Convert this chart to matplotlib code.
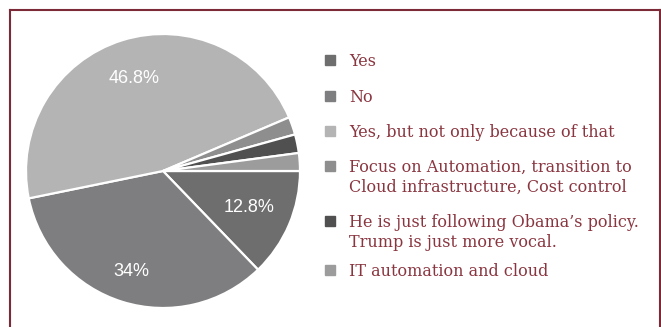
import matplotlib
matplotlib.use("Agg")
import matplotlib.pyplot as plt
import numpy as np
from matplotlib.patches import Rectangle

labels = ["Yes", "No", "Yes, but not only because of that",
          "Focus on Automation, transition to\nCloud infrastructure, Cost control",
          "He is just following Obama\u2019s policy.\nTrump is just more vocal.",
          "IT automation and cloud"]
values = [12.8, 34.0, 46.8, 2.1, 2.2, 2.1]
colors = ["#6e6e6e", "#7e7e80", "#b4b4b4", "#8e8e8e", "#505050", "#9c9c9c"]
pct_labels = ["12.8%", "34%", "46.8%", "", "", ""]
pct_dist = [0.68, 0.77, 0.71, 0, 0, 0]

W, H = 661, 327
fig = plt.figure(figsize=(W/100, H/100), dpi=100)
fig.patch.set_facecolor("white")

cx, cy, r = 163, 171, 137
ax = fig.add_axes([(cx - r)/W, (H - cy - r)/H, 2*r/W, 2*r/H])
wedges, _ = ax.pie(values, colors=colors, startangle=0, counterclock=False,
                   wedgeprops=dict(edgecolor="white", linewidth=1.6))
ax.set_xlim(-1, 1); ax.set_ylim(-1, 1)
ax.set_aspect("auto")
ax.axis("off")

for w, txt, d in zip(wedges, pct_labels, pct_dist):
    if not txt:
        continue
    ang = np.deg2rad((w.theta1 + w.theta2) / 2)
    ax.text(d*np.cos(ang), d*np.sin(ang), txt, color="white", ha="center", va="center",
            fontsize=13, family="Liberation Sans")

# border
border = "#7d2a38"
fig.add_artist(plt.Line2D([9.5/W, 9.5/W], [0, 1 - 9.5/H], color=border, lw=1.5, transform=fig.transFigure))
fig.add_artist(plt.Line2D([9.5/W, 660/W], [1 - 9.5/H, 1 - 9.5/H], color=border, lw=1.5, transform=fig.transFigure))
fig.add_artist(plt.Line2D([660/W, 660/W], [0, 1 - 9.5/H], color=border, lw=1.5, transform=fig.transFigure))

# legend
txt_color = "#8a3640"
ys = [60, 96, 131, 166, 221, 270]
for lab, col, y in zip(labels, colors, ys):
    fig.add_artist(Rectangle(((325)/W, (H - y - 5)/H), 10/W, 10/H, color=col, transform=fig.transFigure))
    fig.text(349/W, (H - y + 7)/H, lab, color=txt_color, fontsize=11.5, family="DejaVu Serif",
             ha="left", va="top", linespacing=1.25)

fig.savefig("out.png", dpi=100)
